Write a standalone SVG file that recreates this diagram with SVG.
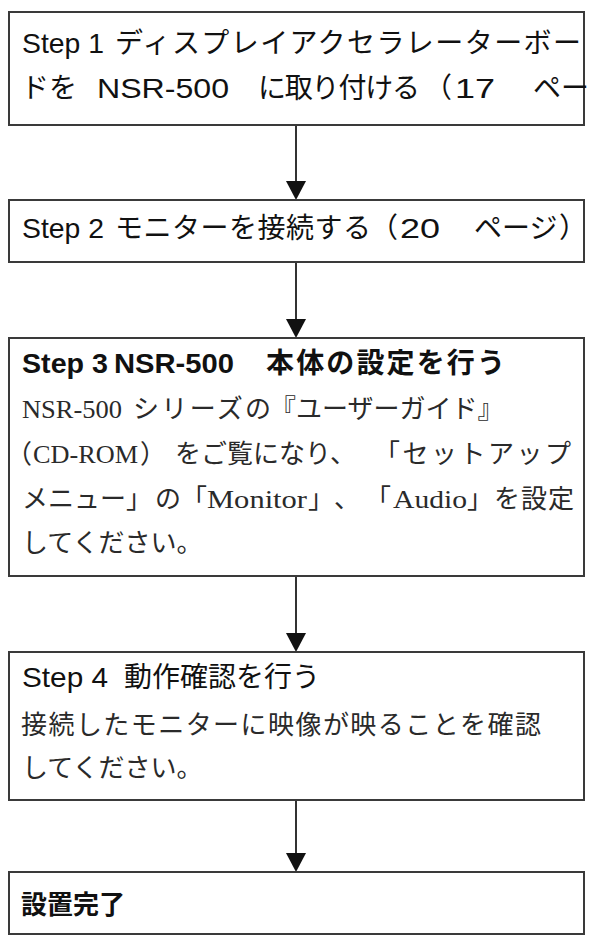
<svg xmlns="http://www.w3.org/2000/svg" width="590" height="937" viewBox="0 0 590 937">
<defs>
<style>
.box{fill:#fff;stroke:#3a3a3a;stroke-width:2}
.h{font-family:"Liberation Sans","Noto Sans CJK JP",sans-serif;font-size:28px;fill:#111}
.hb{font-family:"Liberation Sans","Noto Sans CJK JP",sans-serif;font-size:28px;font-weight:bold;fill:#111}
.b{font-family:"Liberation Serif","Noto Sans CJK JP",serif;font-size:26px;fill:#2a2a2a}
.ln{stroke:#333;stroke-width:2;fill:none}
.ah{fill:#111}
</style>
</defs>
<rect width="590" height="937" fill="#fff"/>
<g id="connectors">
<line class="ln" x1="296" y1="125" x2="296" y2="183"/>
<polygon class="ah" points="286,181 306,181 296,200"/>
<line class="ln" x1="296" y1="262" x2="296" y2="321"/>
<polygon class="ah" points="286,319 306,319 296,338"/>
<line class="ln" x1="296" y1="576" x2="296" y2="635"/>
<polygon class="ah" points="286,633 306,633 296,652"/>
<line class="ln" x1="296" y1="800" x2="296" y2="855"/>
<polygon class="ah" points="286,853 306,853 296,872"/>
</g>
<g id="step1">
<rect class="box" x="9" y="12" width="575" height="113"/>
<text class="h" x="22" y="53" textLength="82" lengthAdjust="spacingAndGlyphs">Step 1</text>
<text class="h" x="115" y="53" textLength="466" lengthAdjust="spacing">ディスプレイアクセラレーターボー</text>
<text class="h" x="21" y="98">ドを</text>
<text class="h" x="97" y="98" textLength="132" lengthAdjust="spacingAndGlyphs">NSR-500</text>
<text class="h" x="258" y="98" textLength="162" lengthAdjust="spacing">に取り付ける</text>
<text class="h" x="424" y="98">（</text>
<text class="h" x="455" y="98" textLength="40" lengthAdjust="spacingAndGlyphs">17</text>
<text class="h" x="533" y="98">ペー</text>
</g>
<g id="step2">
<rect class="box" x="9" y="200" width="575" height="62"/>
<text class="h" x="22" y="238" textLength="82" lengthAdjust="spacingAndGlyphs">Step 2</text>
<text class="h" x="115" y="238" textLength="256" lengthAdjust="spacing">モニターを接続する</text>
<text class="h" x="370" y="238">（</text>
<text class="h" x="400" y="238" textLength="40" lengthAdjust="spacingAndGlyphs">20</text>
<text class="h" x="474" y="238">ページ</text>
<text class="h" x="559" y="238">）</text>
</g>
<g id="step3">
<rect class="box" x="9" y="338" width="575" height="238"/>
<text class="hb" x="22" y="373" textLength="86" lengthAdjust="spacingAndGlyphs">Step 3</text>
<text class="hb" x="114" y="373" textLength="120" lengthAdjust="spacingAndGlyphs">NSR-500</text>
<text class="hb" x="266" y="373" textLength="239" lengthAdjust="spacing">本体の設定を行う</text>
<text class="b" x="22" y="418" textLength="100" lengthAdjust="spacingAndGlyphs">NSR-500</text>
<text class="b" x="133" y="418" textLength="138" lengthAdjust="spacing">シリーズの</text>
<text class="b" x="270" y="418">『ユーザーガイド』</text>
<text class="b" x="6" y="463">（</text>
<text class="b" x="33" y="463" textLength="105" lengthAdjust="spacingAndGlyphs">CD-ROM</text>
<text class="b" x="140" y="463">）</text>
<text class="b" x="175" y="463">をご覧になり、</text>
<text class="b" x="374" y="463" textLength="197" lengthAdjust="spacing">「セットアップ</text>
<text class="b" x="22" y="508">メニュー」</text>
<text class="b" x="155" y="508">の</text>
<text class="b" x="181" y="508">「</text>
<text class="b" x="207" y="508" textLength="100" lengthAdjust="spacingAndGlyphs">Monitor</text>
<text class="b" x="308" y="508">」</text>
<text class="b" x="334" y="508">、</text>
<text class="b" x="365" y="508">「</text>
<text class="b" x="393" y="508" textLength="74" lengthAdjust="spacingAndGlyphs">Audio</text>
<text class="b" x="467" y="508">」</text>
<text class="b" x="494" y="508" textLength="80" lengthAdjust="spacing">を設定</text>
<text class="b" x="22" y="552">してください。</text>
</g>
<g id="step4">
<rect class="box" x="9" y="652" width="575" height="148"/>
<text class="h" x="22" y="687" textLength="86" lengthAdjust="spacingAndGlyphs">Step 4</text>
<text class="h" x="124" y="687">動作確認を行う</text>
<text class="b" x="21" y="734" textLength="520" lengthAdjust="spacing">接続したモニターに映像が映ることを確認</text>
<text class="b" x="22" y="777">してください。</text>
</g>
<g id="done">
<rect class="box" x="9" y="872" width="575" height="62"/>
<text class="hb" x="21" y="914" style="font-size:26px">設置完了</text>
</g>
</svg>
